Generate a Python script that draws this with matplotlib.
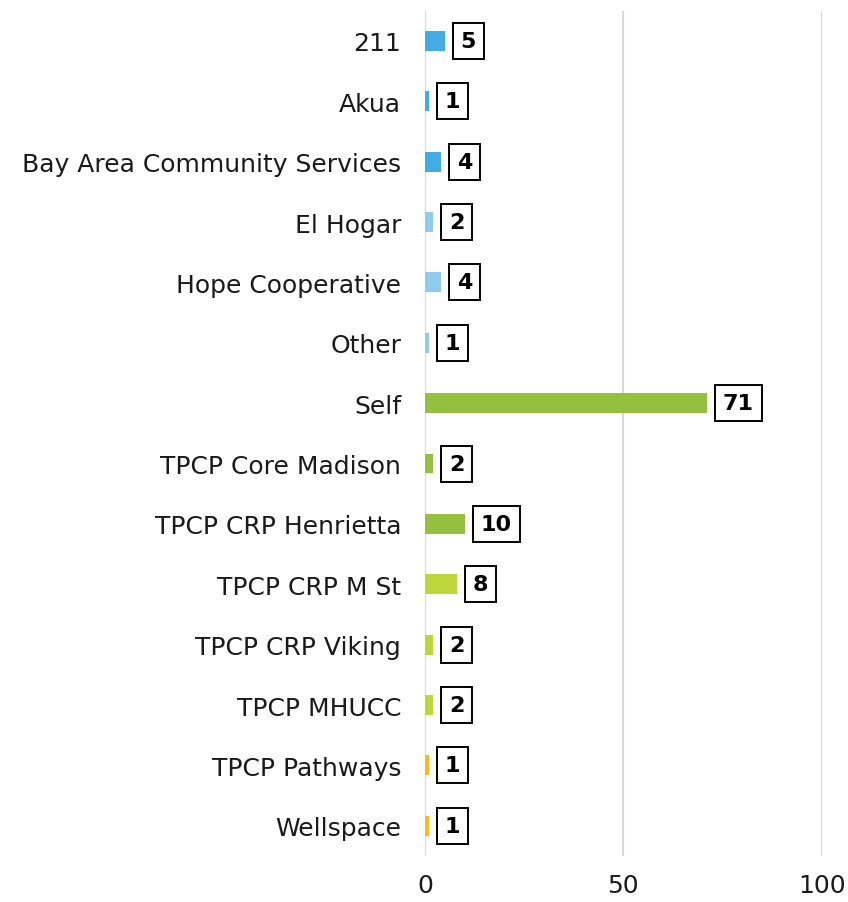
import matplotlib
matplotlib.use("Agg")
import matplotlib.pyplot as plt

categories = ["211", "Akua", "Bay Area Community Services", "El Hogar",
              "Hope Cooperative", "Other", "Self", "TPCP Core Madison",
              "TPCP CRP Henrietta", "TPCP CRP M St", "TPCP CRP Viking",
              "TPCP MHUCC", "TPCP Pathways", "Wellspace"]
values = [5, 1, 4, 2, 4, 1, 71, 2, 10, 8, 2, 2, 1, 1]
colors = ["#41ADE4", "#41ADE4", "#41ADE4",
          "#8ECBEC", "#8ECBEC", "#8ECBEC",
          "#93C03E", "#93C03E", "#93C03E",
          "#BDD63A", "#BDD63A", "#BDD63A",
          "#FBBA19", "#FBBA19"]
xticks = [0, 50, 100]

plt.rcParams["font.family"] = ["DejaVu Sans"]

fig = plt.figure(figsize=(8.48, 9.03), dpi=100)
ax = fig.add_axes([0.501, 0.051, 0.468, 0.936])

y = list(range(len(categories)))
ax.barh(y, values, height=0.33, color=colors, zorder=3)
ax.set_ylim(len(categories) - 0.5, -0.5)
ax.set_xlim(0, 100)

for yi, v in zip(y, values):
    ax.annotate(str(v), (v, yi), xytext=(11.5, 0), textcoords="offset points",
                ha="left", va="center", fontsize=16, fontweight="bold",
                bbox=dict(boxstyle="square,pad=0.36", fc="white", ec="black", lw=1.4),
                zorder=4)

ax.set_yticks(y)
ax.set_yticklabels(categories, fontsize=18, color="#1a1a1a")
ax.set_xticks(xticks)
ax.set_xticklabels([str(t) for t in xticks], fontsize=18, color="#1a1a1a")
ax.tick_params(length=0, axis="y", pad=17)
ax.tick_params(length=0, axis="x", pad=12)
ax.grid(axis="x", color="#D9D9D9", lw=1.5, zorder=0)
for s in ax.spines.values():
    s.set_visible(False)

fig.savefig("out.png", dpi=100)
